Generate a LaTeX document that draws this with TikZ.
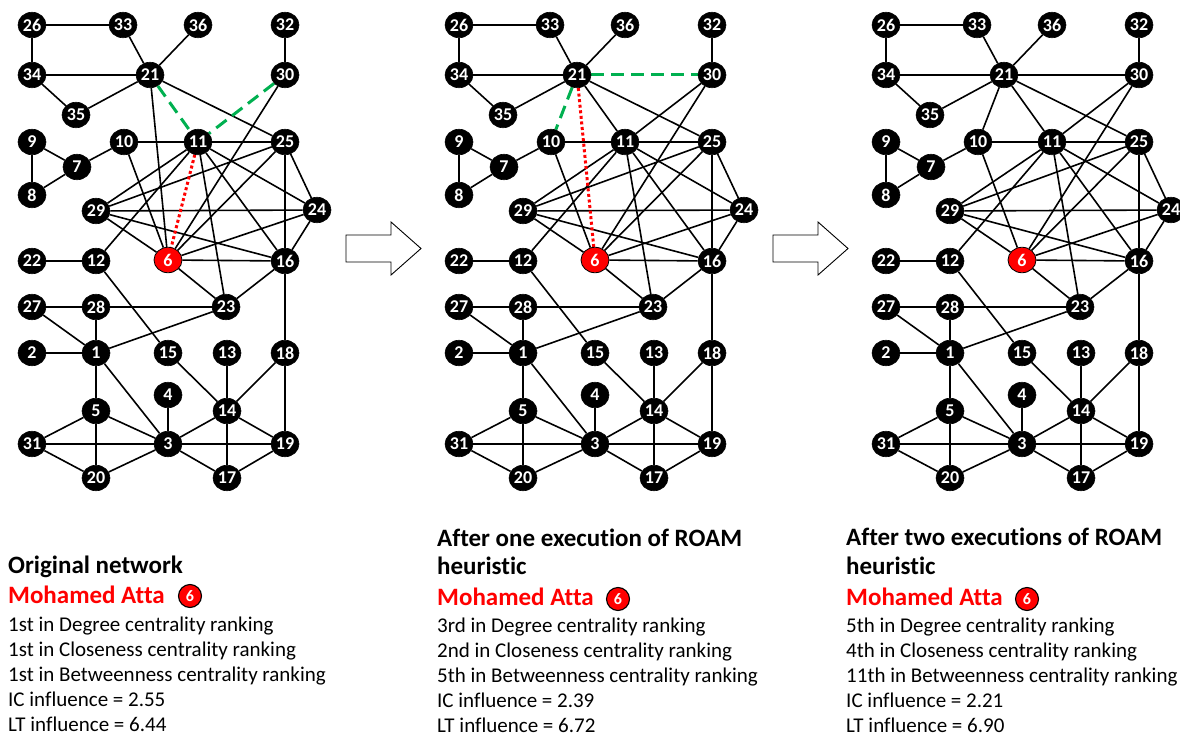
\documentclass[tikz,border=0pt]{standalone}
\usepackage{fontspec}
\setmainfont{Carlito}[Ligatures=NoCommon]
\usetikzlibrary{shapes.geometric}
\pgfdeclarelayer{edges}
\pgfsetlayers{edges,main}
\definecolor{addgreen}{RGB}{0,176,80}
\definecolor{hotred}{RGB}{255,0,0}

\tikzset{
  vertex/.style={ellipse, fill=black, draw=black, line width=0.6pt, inner sep=0pt,
    minimum width=28pt, minimum height=25.5pt, text=white,
    font=\bfseries\fontsize{18}{18}\selectfont},
  target/.style={vertex, fill=hotred, draw=black, line width=0.8pt},
  link/.style={line width=1.6pt, draw=black},
  removed/.style={line width=3pt, draw=hotred, dash pattern=on 3pt off 2.6pt},
  added/.style={line width=3pt, draw=addgreen, dash pattern=on 13pt off 7pt},
  flow/.style={draw=black, line width=0.9pt, fill=white, line join=miter},
  heading/.style={anchor=base west, inner sep=0pt, font=\bfseries\fontsize{25}{25}\selectfont},
  person/.style={heading, text=hotred},
  stat/.style={anchor=base west, inner sep=0pt, font=\fontsize{21}{21}\selectfont},
  badge/.style={circle, fill=hotred, draw=black, line width=1.1pt, inner sep=0pt,
    minimum size=23pt, text=white, font=\bfseries\fontsize{16}{16}\selectfont},
}

% vertices of the network (node 6 is the highlighted one)
\newcommand\netvertices{%
  \foreach \n/\px/\py in {26/32/25, 33/123/25, 36/198/25, 32/285/25,
      34/32/75, 21/150/75, 30/285/75, 35/76/115,
      9/32/142, 10/124/142, 11/198/142, 25/285/142, 7/77/167, 8/32/195,
      29/96/211, 24/317/210, 22/32/261, 12/96/261, 16/285/261,
      27/32/307, 28/96/307, 23/226/307,
      2/32/353, 1/96/353, 15/168/353, 13/227/353, 18/285/353,
      4/168/395, 5/96/411, 14/227/411,
      31/32/444, 3/168/444, 19/285/444, 20/96/478, 17/227/478}
    {\node[vertex] (\n) at (\px,\py) {\n};}
  \node[target] (6) at (168,260) {6};
}

% links shared by all three versions of the network
\newcommand\netlinks{%
  \foreach \a/\b in {26/33, 26/34, 34/21, 34/35, 35/21, 33/21, 36/21, 32/30,
      21/25, 30/6, 9/7, 9/8, 8/7, 7/10, 10/11, 11/25, 10/6, 11/29, 11/12,
      11/23, 11/16, 11/24, 25/29, 25/6, 25/16, 25/24, 29/24, 29/6, 29/16,
      24/6, 24/16, 6/16, 6/23, 16/23, 16/18, 22/12, 12/15, 27/28, 27/1,
      28/1, 28/23, 1/23, 2/1, 1/5, 1/3, 15/14, 13/14, 18/14, 18/19, 4/3,
      5/31, 5/3, 5/20, 31/3, 31/20, 20/3, 3/14, 3/19, 3/17, 14/19, 14/17, 17/19}
    {\draw[link] (\a) -- (\b);}
}

\begin{document}
\begin{tikzpicture}[x=1pt, y=-1pt]
\useasboundingbox (0,0) rectangle (1180,735);

% ---------- original network ----------
\begin{scope}[name prefix=a-]
  \netvertices
  \begin{pgfonlayer}{edges}
    \netlinks
    \draw[link] (21) -- (6);
    \draw[removed] (11) -- (6);
    \draw[added] (21) -- (11);
    \draw[added] (30) -- (11);
  \end{pgfonlayer}
\end{scope}

% ---------- after one execution ----------
\begin{scope}[name prefix=b-, xshift=427pt]
  \netvertices
  \begin{pgfonlayer}{edges}
    \netlinks
    \draw[link] (21) -- (11);
    \draw[link] (30) -- (11);
    \draw[removed] (21) -- (6);
    \draw[added] (21) -- (30);
    \draw[added] (21) -- (10);
  \end{pgfonlayer}
\end{scope}

% ---------- after two executions ----------
\begin{scope}[name prefix=c-, xshift=854pt]
  \netvertices
  \begin{pgfonlayer}{edges}
    \netlinks
    \draw[link] (21) -- (11);
    \draw[link] (30) -- (11);
    \draw[link] (21) -- (30);
    \draw[link] (21) -- (10);
  \end{pgfonlayer}
\end{scope}

% ---------- step arrows ----------
\draw[flow] (346,235) -- (391,235) -- (391,222) -- (421,248.5) -- (391,275)
  -- (391,262) -- (346,262) -- cycle;
\draw[flow] (773,235) -- (818,235) -- (818,222) -- (848,248.5) -- (818,275)
  -- (818,262) -- (773,262) -- cycle;

% ---------- captions ----------
\node[heading] (t1) at (8,573) {Original network};
\node[person] (p1) at (8,603) {Mohamed Atta};
\node[badge] (m1) at (190,596) {6};
\node[stat] (s11) at (8,631) {1st in Degree centrality ranking};
\node[stat] (s12) at (8,656) {1st in Closeness centrality ranking};
\node[stat] (s13) at (8,681) {1st in Betweenness centrality ranking};
\node[stat] (s14) at (8,706) {IC influence = 2.55};
\node[stat] (s15) at (8,731) {LT influence = 6.44};

\node[heading] (t2a) at (437,546) {After one execution of ROAM};
\node[heading] (t2b) at (437,574) {heuristic};
\node[person] (p2) at (437,605) {Mohamed Atta};
\node[badge] (m2) at (618,599) {6};
\node[stat] (s21) at (437,632) {3rd in Degree centrality ranking};
\node[stat] (s22) at (437,657) {2nd in Closeness centrality ranking};
\node[stat] (s23) at (437,682) {5th in Betweenness centrality ranking};
\node[stat] (s24) at (437,707) {IC influence = 2.39};
\node[stat] (s25) at (437,732) {LT influence = 6.72};

\node[heading] (t3a) at (846,545) {After two executions of ROAM};
\node[heading] (t3b) at (846,574) {heuristic};
\node[person] (p3) at (846,605) {Mohamed Atta};
\node[badge] (m3) at (1027,599) {6};
\node[stat] (s31) at (846,632) {5th in Degree centrality ranking};
\node[stat] (s32) at (846,657) {4th in Closeness centrality ranking};
\node[stat] (s33) at (846,682) {11th in Betweenness centrality ranking};
\node[stat] (s34) at (846,707) {IC influence = 2.21};
\node[stat] (s35) at (846,732) {LT influence = 6.90};
\end{tikzpicture}
\end{document}
